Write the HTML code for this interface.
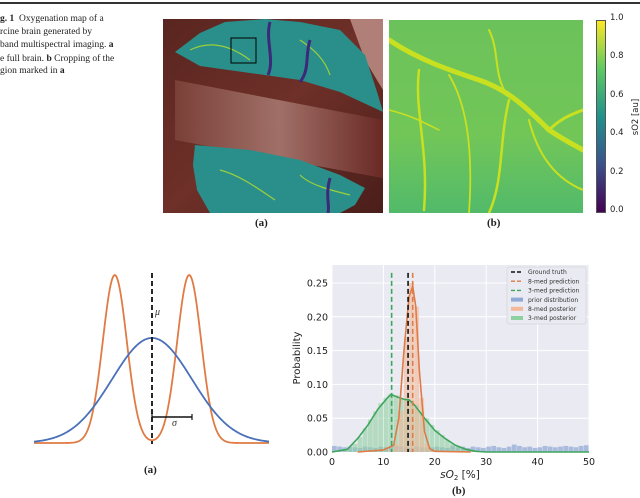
<!DOCTYPE html>
<html><head><meta charset="utf-8"><style>
body{margin:0;background:#fff;width:640px;height:498px;overflow:hidden;position:relative;font-family:"Liberation Serif",serif}
.cap{position:absolute;left:0;font-size:9.5px;color:#222;white-space:nowrap}
.sub{position:absolute;font-size:11px;font-weight:bold;color:#222}
</style></head><body>
<div style="position:absolute;left:0;top:2px;width:640px;height:2px;background:#333"></div>
<div>
<div class="cap" style="top:14px"><b>g. 1</b>&nbsp;&nbsp;Oxygenation map of a</div>
<div class="cap" style="top:27px">rcine brain generated by</div>
<div class="cap" style="top:40px">band multispectral imaging. <b>a</b></div>
<div class="cap" style="top:54px">e full brain. <b>b</b> Cropping of the</div>
<div class="cap" style="top:66px">gion marked in <b>a</b></div>
</div>

<svg style="position:absolute;left:163px;top:19px" width="220" height="194" viewBox="163 19 220 194">
<defs>
<linearGradient id="bg" x1="0" y1="0" x2="1" y2="1"><stop offset="0" stop-color="#5a2520"/><stop offset="0.5" stop-color="#6e3028"/><stop offset="1" stop-color="#4a1e1a"/></linearGradient>
<linearGradient id="strip" x1="0" y1="0" x2="1" y2="0"><stop offset="0" stop-color="#7a4038"/><stop offset="0.5" stop-color="#a07068"/><stop offset="1" stop-color="#6a2a24"/></linearGradient>
</defs>
<rect x="163" y="19" width="220" height="194" fill="url(#bg)"/>
<polygon points="175,80 383,120 383,178 175,140" fill="url(#strip)"/>
<polygon points="350,19 383,19 383,90 365,60" fill="#b08078"/>
<polygon points="175,52 200,33 225,22 265,19 300,22 340,30 365,55 378,95 383,112 340,92 300,80 250,73 200,66" fill="#2a8f8a"/>
<polygon points="195,145 250,150 300,160 340,175 365,188 355,205 340,213 210,213 197,190 193,165" fill="#2a8f8a"/>
<g fill="none" stroke="#b8de29" stroke-width="1.2" opacity="0.8">
<path d="M190,50 C210,40 230,45 250,60"/><path d="M300,40 C315,50 325,60 330,75"/><path d="M220,170 C240,175 260,190 275,200"/><path d="M300,175 C310,185 330,190 350,195"/>
</g>
<g fill="none" stroke="#3b2a7a" stroke-width="3">
<path d="M270,22 C265,40 275,60 268,75"/><path d="M330,178 C325,195 330,205 328,213"/><path d="M310,40 C305,55 310,70 300,82"/>
</g>
<rect x="231" y="38" width="25" height="25" fill="none" stroke="#000" stroke-width="1"/>
</svg>

<svg style="position:absolute;left:389px;top:20px" width="194" height="193" viewBox="0 0 194 193">
<defs><linearGradient id="cg" x1="0" y1="0" x2="0" y2="1"><stop offset="0" stop-color="#6cc25a"/><stop offset="0.6" stop-color="#72c658"/><stop offset="1" stop-color="#52ba6a"/></linearGradient></defs>
<rect width="194" height="193" fill="url(#cg)"/>
<g fill="none" stroke="#c8e020" stroke-linecap="round">
<path d="M0,20 C30,40 60,50 90,60 C120,70 140,90 160,110 C175,120 185,125 194,130" stroke-width="5"/>
<path d="M30,50 C25,90 40,130 35,190" stroke-width="2.5"/>
<path d="M120,80 C110,120 115,160 100,193" stroke-width="2.5"/>
<path d="M160,110 C170,100 180,95 194,90" stroke-width="3"/>
<path d="M60,55 C75,80 85,120 80,193" stroke-width="1.8"/>
<path d="M100,10 C110,30 105,50 115,70" stroke-width="2"/>
<path d="M140,100 C150,140 170,160 194,170" stroke-width="2"/>
<path d="M0,90 C20,95 30,100 50,110" stroke-width="1.5"/>
</g>
</svg>

<div style="position:absolute;left:596px;top:20px;width:10px;height:193px;border:0.5px solid #555;box-sizing:border-box;background:linear-gradient(to top,#440154,#3b528b,#21918c,#5ec962,#fde725)"></div>
<div style="position:absolute;left:610px;top:14px;font:8.5px 'DejaVu Sans',sans-serif;color:#222;line-height:1">
<div style="position:absolute;top:0">1.0</div><div style="position:absolute;top:38px">0.8</div><div style="position:absolute;top:77px">0.6</div><div style="position:absolute;top:115px">0.4</div><div style="position:absolute;top:154px">0.2</div><div style="position:absolute;top:192px">0.0</div>
</div>
<div style="position:absolute;left:611px;top:112px;font:8.5px 'DejaVu Sans',sans-serif;transform:rotate(-90deg);transform-origin:center;width:50px;text-align:center;color:#222">sO2 [au]</div>
<div class="sub" style="left:255px;top:217px">(a)</div>
<div class="sub" style="left:487px;top:217px">(b)</div>

<svg id="left" style="position:absolute;left:0;top:250px" width="300" height="248" viewBox="0 250 300 248"></svg>
<div class="sub" style="left:144px;top:464px">(a)</div>

<svg id="right" style="position:absolute;left:290px;top:250px" width="350" height="248" viewBox="290 250 350 248"></svg>
<div class="sub" style="left:452px;top:485px">(b)</div>

<script>
// left diagram parameters
const gaussMu=[0];
const gaussSigma=[1];
const bimodalCenters=[-0.93,0.93];
const bimodalSigma=[0.3];
const NS='http://www.w3.org/2000/svg';
function mk(p,t,a){const e=document.createElementNS(NS,t);for(const k in a)e.setAttribute(k,a[k]);p.appendChild(e);return e;}
(function(){
const L=document.getElementById('left');
const cx=152,unit=40,base=443;
const X=v=>cx+v*unit;
let pb='',po='';
for(let i=0;i<=235;i++){const v=(34+i-cx)/unit;
 const g=Math.exp(-0.5*Math.pow((v-gaussMu[0])/gaussSigma[0],2));
 let o=0;bimodalCenters.forEach(c=>o+=Math.exp(-0.5*Math.pow((v-c)/bimodalSigma[0],2)));
 pb+=(i?'L':'M')+(34+i)+','+(base-g*105);po+=(i?'L':'M')+(34+i)+','+(base-o*168);}
let e=mk(L,'path',{d:po,fill:'none',stroke:'#e07b45','stroke-width':1.8});

e=mk(L,'path',{d:pb,fill:'none',stroke:'#4a70b8','stroke-width':1.8});

e=mk(L,'line',{x1:X(0),x2:X(0),y1:273,y2:444,stroke:'#111','stroke-width':1.8,'stroke-dasharray':'5,3'});

e=mk(L,'text',{x:155,y:315,'font-size':10,'font-style':'italic','font-family':'Liberation Serif, serif',fill:'#333'});e.textContent='μ';

e=mk(L,'line',{x1:X(0),x2:X(1),y1:417,y2:417,stroke:'#111','stroke-width':1.5});

mk(L,'line',{x1:X(0),x2:X(0),y1:413,y2:421,stroke:'#111','stroke-width':1.2});
mk(L,'line',{x1:X(1),x2:X(1),y1:414,y2:420,stroke:'#111','stroke-width':1.2});
e=mk(L,'text',{x:172,y:426,'font-size':10,'font-style':'italic','font-family':'Liberation Serif, serif',fill:'#333'});e.textContent='σ';

})();

// right chart data
const xTicks=[0,10,20,30,40,50];
const yTicks=[0,0.05,0.10,0.15,0.20,0.25];
const yTickLabels=['0.00','0.05','0.10','0.15','0.20','0.25'];
const priorHist=[0.009,0.008,0.007,0.008,0.007,0.006,0.008,0.007,0.006,0.008,0.007,0.008,0.009,0.008,0.007,0.006,0.008,0.007,0.006,0.007,0.008,0.007,0.006,0.009,0.007,0.008,0.006,0.008,0.007,0.006,0.008,0.009,0.007,0.006,0.008,0.011,0.009,0.007,0.008,0.006,0.007,0.009,0.008,0.007,0.008,0.009,0.008,0.007,0.009,0.010];
const postHist8=[0,0,0,0,0,0,0,0,0,0,0,0.003,0.012,0.06,0.17,0.25,0.215,0.08,0.012,0.002,0,0,0,0,0,0,0,0,0,0,0,0,0,0,0,0,0,0,0,0,0,0,0,0,0,0,0,0,0,0];
const postHist3=[0,0,0.002,0.005,0.012,0.022,0.035,0.048,0.06,0.072,0.08,0.086,0.084,0.08,0.079,0.076,0.07,0.06,0.05,0.04,0.032,0.025,0.018,0.012,0.008,0.005,0.003,0.002,0.001,0,0,0,0,0,0,0,0,0,0,0,0,0,0,0,0,0,0,0,0,0];
const kde8X=[5,10,12,13,14,15,15.7,16.3,17,18,19,20,27];
const kde8Y=[0,0.003,0.01,0.05,0.15,0.23,0.245,0.215,0.12,0.03,0.005,0.001,0];
const kde3X=[0,3,5,7,9,11,11.5,12.5,14,15,16,18,20,22,24,26,28,30,50];
const kde3Y=[0,0.004,0.02,0.04,0.064,0.082,0.085,0.082,0.078,0.077,0.07,0.05,0.032,0.02,0.01,0.004,0.001,0,0];
const vlineNames=['Ground truth','8-med prediction','3-med prediction'];
const vlineX=[14.8,15.7,11.6];
const vlineColors=['#111','#e07b45','#3fa55c'];
(function(){
const R=document.getElementById('right');
const x0=332,x1=589,yb=452,ytop=265;
const X=v=>x0+v/50*(x1-x0);
const Y=v=>yb-v*676;
let e=mk(R,'rect',{x:x0,y:ytop,width:x1-x0,height:yb-ytop,fill:'#eaeaf2'});

xTicks.forEach(t=>{mk(R,'line',{x1:X(t),x2:X(t),y1:ytop,y2:yb,stroke:'#fff','stroke-width':1});
 const tx=mk(R,'text',{x:X(t),y:yb+13,'text-anchor':'middle','font-size':9.5,'font-family':'DejaVu Sans, sans-serif',fill:'#222'});tx.textContent=t;
 });
yTicks.forEach((t,i)=>{mk(R,'line',{x1:x0,x2:x1,y1:Y(t),y2:Y(t),stroke:'#fff','stroke-width':1});
 const tx=mk(R,'text',{x:x0-4,y:Y(t)+3.5,'text-anchor':'end','font-size':9.5,'font-family':'DejaVu Sans, sans-serif',fill:'#222'});tx.textContent=yTickLabels[i];
 });
function hist(arr,col,op,name){arr.forEach((v,i)=>{if(v<=0)return;const r=mk(R,'rect',{x:X(i),y:Y(v),width:X(i+1)-X(i)-0.4,height:yb-Y(v),fill:col,opacity:op});
 });}
hist(priorHist,'#8fa8d4',0.7,'prior-bar');
hist(postHist3,'#8fd0a0',0.6,'posterior-3med-bar');
hist(postHist8,'#f2b898',0.6,'posterior-8med-bar');
function line(xs,ys,col,name){let d='';xs.forEach((v,i)=>d+=(i?'L':'M')+X(v)+','+Y(ys[i]));
 const p=mk(R,'path',{d:d,fill:'none',stroke:col,'stroke-width':1.6,'stroke-linejoin':'round'});}
line(kde3X,kde3Y,'#3fa55c','kde-3med');
line(kde8X,kde8Y,'#e07b45','kde-8med');
vlineX.forEach((v,i)=>{const l=mk(R,'line',{x1:X(v),x2:X(v),y1:Y(0.265),y2:yb,stroke:vlineColors[i],'stroke-width':1.6,'stroke-dasharray':'5,3'});
 });
let t=mk(R,'text',{x:460,y:478,'text-anchor':'middle','font-size':10.5,'font-family':'DejaVu Sans, sans-serif',fill:'#222'});
t.innerHTML='<tspan font-style="italic">sO</tspan><tspan font-size="7" dy="2">2</tspan><tspan dy="-2"> [%]</tspan>';

t=mk(R,'text',{x:300,y:358,'text-anchor':'middle','font-size':10,'font-family':'DejaVu Sans, sans-serif',fill:'#222',transform:'rotate(-90 300 358)'});t.textContent='Probability';

// legend
const lg=mk(R,'g',{});
mk(lg,'rect',{x:507,y:267,width:79,height:57,fill:'#eaeaf2',stroke:'#ccc','stroke-width':0.5,rx:2});
const labels=['Ground truth','8-med prediction','3-med prediction','prior distribution','8-med posterior','3-med posterior'];
const cols=['#111','#e07b45','#3fa55c','#8fa8d4','#f2b898','#8fd0a0'];
labels.forEach((s,i)=>{const y=272+i*9.2;
 if(i<3)mk(lg,'line',{x1:511,x2:523,y1:y,y2:y,stroke:cols[i],'stroke-width':1.4,'stroke-dasharray':'4,2'});
 else mk(lg,'rect',{x:511,y:y-2,width:12,height:4,fill:cols[i]});
 const tt=mk(lg,'text',{x:528,y:y+2.2,'font-size':6,'font-family':'DejaVu Sans, sans-serif',fill:'#333'});tt.textContent=s;
 });
})();
</script>
</body></html>
